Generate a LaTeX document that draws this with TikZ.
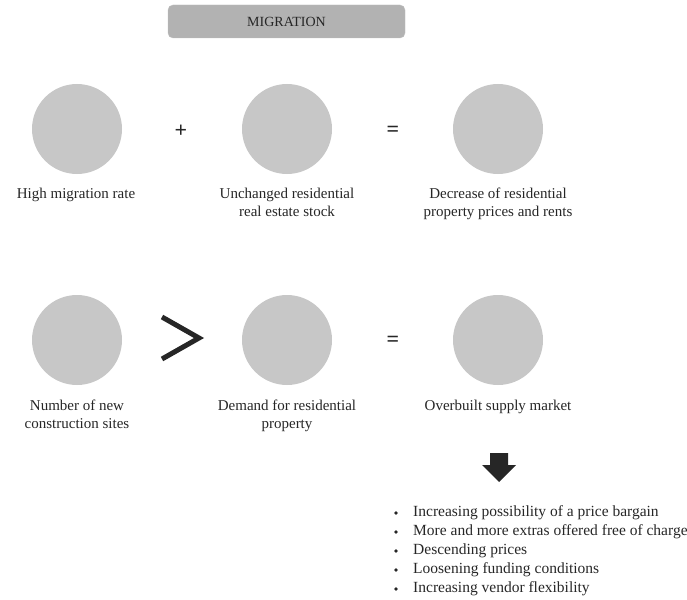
\documentclass[tikz,border=0pt]{standalone}
\usepackage{fontspec}
\setmainfont{Liberation Serif}
\usetikzlibrary{calc}
\begin{document}
\begin{tikzpicture}[x=1pt,y=-1pt,
  disc/.style={circle,fill=black!22,minimum size=90pt,inner sep=0pt},
  lbl/.style={text=black!85,font=\fontsize{15}{18}\selectfont,align=center,anchor=north,inner sep=0pt},
  sym/.style={text=black!85,font=\bfseries\fontsize{22}{26}\selectfont},
  item/.style={text=black!85,font=\fontsize{15.5}{18}\selectfont,anchor=west,inner sep=0pt}]
\useasboundingbox (0,0) rectangle (687,599);
\node[draw=black!25,fill=black!30,rounded corners=5pt,minimum width=237pt,minimum height=33pt,
  text=black!85,font=\fontsize{14}{16}\selectfont] (banner) at (286.5,21.5) {MIGRATION};
% row 1
\node[disc] (c1) at (77,129) {};
\node[disc] (c2) at (287,129) {};
\node[disc] (c3) at (498,129) {};
\node[sym] (plus) at (181,131) {+};
\node[sym] (eq1) at (393,131) {=};
\node[lbl] (l1) at (76,188) {High migration rate};
\node[lbl] (l2) at (287,188) {Unchanged residential\\real estate stock};
\node[lbl] (l3) at (498,188) {Decrease of residential\\property prices and rents};
% row 2
\node[disc] (c4) at (77,340) {};
\node[disc] (c5) at (287,340) {};
\node[disc] (c6) at (498,340) {};
\coordinate (gt) at (180,338);
\draw[black!85,line width=5pt,line join=miter] ($(gt)+(-18,-21)$) -- ($(gt)+(19,0)$) -- ($(gt)+(-18,21)$);
\node[sym] (eq2) at (393,341) {=};
\node[lbl] (l4) at (77,400) {Number of new\\construction sites};
\node[lbl] (l5) at (287,400) {Demand for residential\\property};
\node[lbl] (l6) at (498,400) {Overbuilt supply market};
% arrow
\coordinate (ar) at (499,453);
\fill[black!85] ($(ar)+(-9,0)$) -- ($(ar)+(9,0)$) -- ($(ar)+(9,12)$) -- ($(ar)+(17,12)$) -- ($(ar)+(0,29)$) -- ($(ar)+(-17,12)$) -- ($(ar)+(-9,12)$) -- cycle;
% bullets
\foreach \t [count=\i] in {Increasing possibility of a price bargain,More and more extras offered free of charge,Descending prices,Loosening funding conditions,Increasing vendor flexibility}{
  \node[item] (b\i) at (413,{513+(\i-1)*19}) {\t};
  \fill[black!85] (396,{513+(\i-1)*19}) circle (1.8pt);
}
\end{tikzpicture}
\end{document}
